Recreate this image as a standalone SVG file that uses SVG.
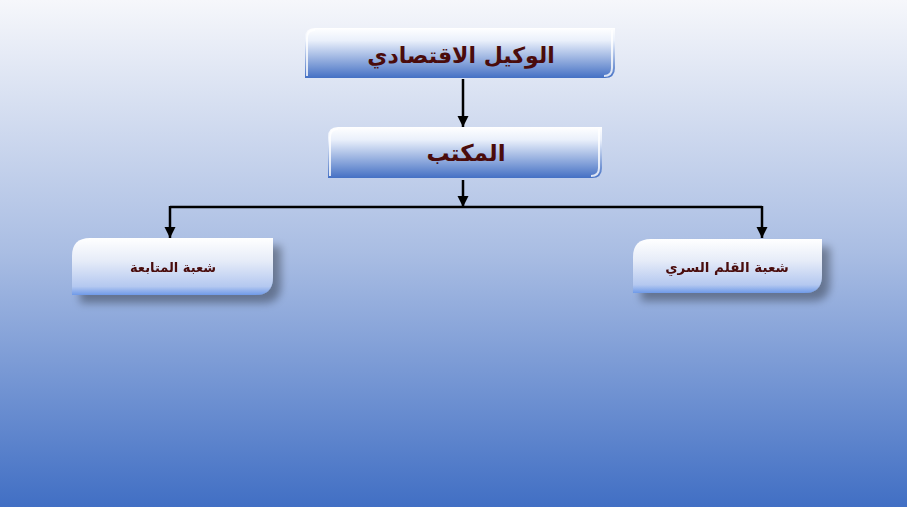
<svg xmlns="http://www.w3.org/2000/svg" width="907" height="507" viewBox="0 0 907 507">
<defs>
<linearGradient id="bg" x1="0" y1="0" x2="0" y2="1">
<stop offset="0" stop-color="#f6f7fb"/>
<stop offset="0.5" stop-color="#a9bde3"/>
<stop offset="1" stop-color="#416fc4"/>
</linearGradient>
<linearGradient id="g1" x1="0" y1="0" x2="0" y2="1">
<stop offset="0" stop-color="#ffffff"/>
<stop offset="0.25" stop-color="#eaf0fb"/>
<stop offset="1" stop-color="#4470c4"/>
</linearGradient>
<linearGradient id="g2" x1="0" y1="0" x2="0" y2="1">
<stop offset="0" stop-color="#ffffff"/>
<stop offset="0.4" stop-color="#e6ecf8"/>
<stop offset="0.85" stop-color="#b4c8f0"/>
<stop offset="1" stop-color="#6f9ae8"/>
</linearGradient>
<filter id="sh" x="-20%" y="-20%" width="150%" height="160%">
<feGaussianBlur in="SourceAlpha" stdDeviation="4"/>
<feOffset dx="8" dy="8"/>
<feComponentTransfer><feFuncA type="linear" slope="0.35"/></feComponentTransfer>
<feMerge><feMergeNode/><feMergeNode in="SourceGraphic"/></feMerge>
</filter>
<marker id="ah" viewBox="0 0 10 10" refX="10" refY="5" markerWidth="4.5" markerHeight="4.5" orient="auto">
<path d="M0,0 L10,5 L0,10 Z" fill="#000"/>
</marker>
<style>
.t{font-family:"DejaVu Sans","Noto Sans",sans-serif;fill:#4a0c0c;text-anchor:middle;font-weight:bold}
.bevel{fill:none;stroke:#ffffff;stroke-opacity:0.8;stroke-width:2}
.c{stroke:#000;stroke-width:2.5;fill:none}
</style>
</defs>
<rect x="0" y="0" width="907" height="507" fill="url(#bg)"/>
<g id="connectors">
<line class="c" x1="463" y1="79" x2="463" y2="127" marker-end="url(#ah)"/>
<line class="c" x1="463" y1="180" x2="463" y2="207" marker-end="url(#ah)"/>
<polyline class="c" points="170,207 762,207"/>
<line class="c" x1="170" y1="206" x2="170" y2="238" marker-end="url(#ah)"/>
<line class="c" x1="762" y1="206" x2="762" y2="238" marker-end="url(#ah)"/>
</g>
<g id="node-top">
<path d="M315,28 H615 V68 Q615,78 605,78 H305 V38 Q305,28 315,28 Z" fill="url(#g1)"/>
<path class="bevel" d="M307,76 V38 Q307,30 315,30"/>
<path class="bevel" d="M612,30 V68 Q612,76 604,76" stroke-opacity="0.6"/>
<text class="t" x="461" y="63" font-size="22">الوكيل الاقتصادي</text>
</g>
<g id="node-office">
<path d="M338,127 H602 V168 Q602,178 592,178 H328 V137 Q328,127 338,127 Z" fill="url(#g1)"/>
<path class="bevel" d="M330,176 V137 Q330,129 338,129"/>
<path class="bevel" d="M599,129 V168 Q599,176 591,176" stroke-opacity="0.6"/>
<text class="t" x="466" y="161" font-size="23">المكتب</text>
</g>
<g id="node-left" filter="url(#sh)">
<path d="M90,238 H273 V277 Q273,295 255,295 H72 V256 Q72,238 90,238 Z" fill="url(#g2)"/>
<text class="t" x="173" y="272" font-size="13">شعبة المتابعة</text>
</g>
<g id="node-right" filter="url(#sh)">
<path d="M651,239 H822 V275 Q822,293 804,293 H633 V257 Q633,239 651,239 Z" fill="url(#g2)"/>
<text class="t" x="727" y="272" font-size="13.5">شعبة القلم السري</text>
</g>
</svg>
